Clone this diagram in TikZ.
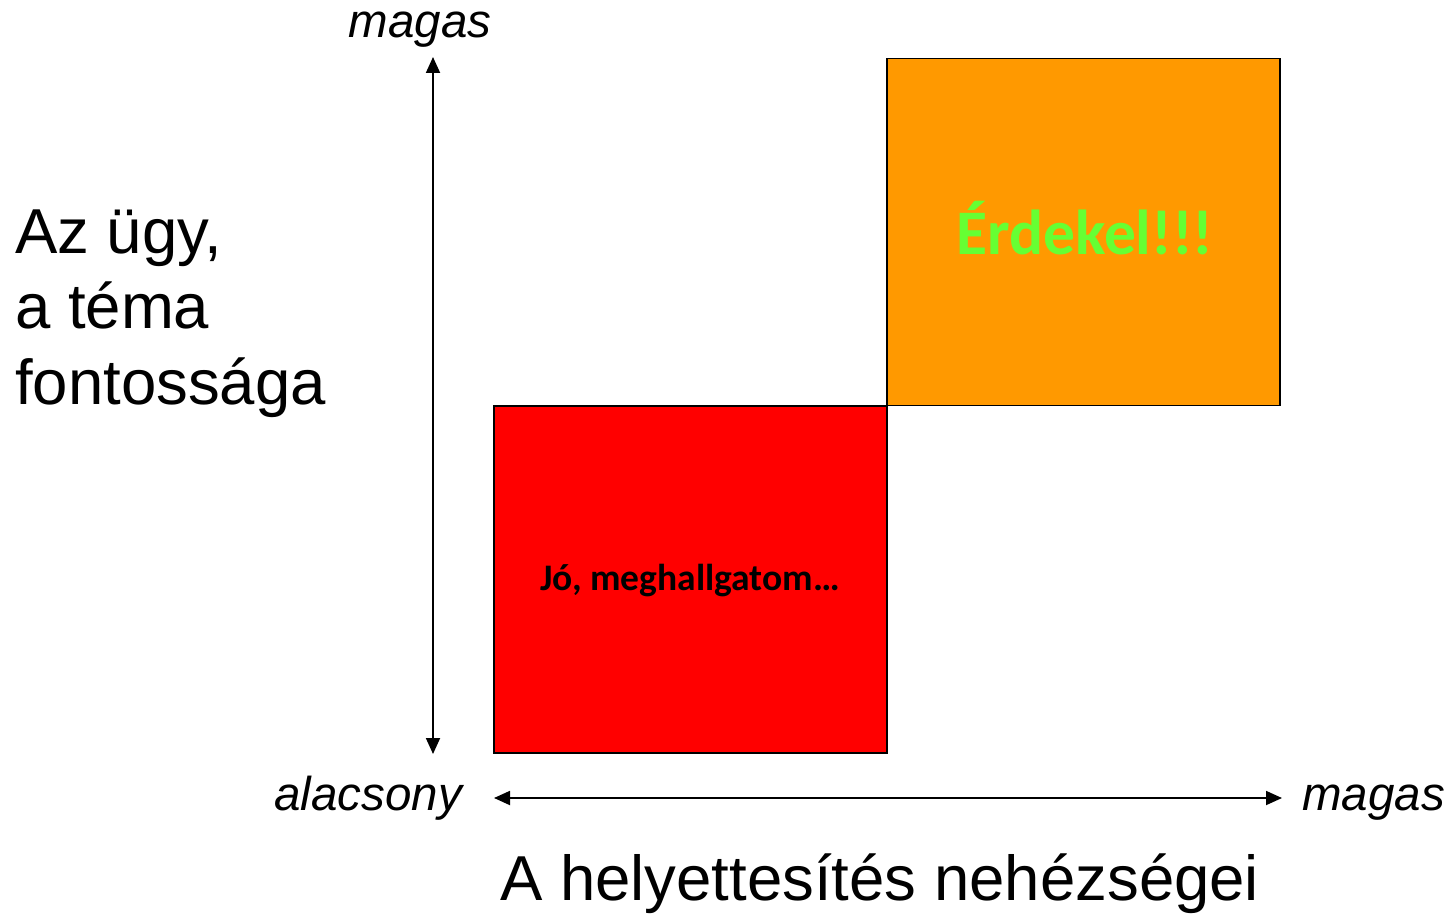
\documentclass[tikz,border=0pt]{standalone}
\usepackage{fontspec}
\setmainfont{Liberation Sans}
\newfontfamily\boxfont{Carlito}
\usetikzlibrary{arrows.meta}
\definecolor{boxred}{HTML}{FF0000}
\definecolor{boxorange}{HTML}{FF9900}
\definecolor{txtgreen}{HTML}{66FF33}
\tikzset{
  quad/.style={draw=black, line width=1.5pt, inner sep=0pt, minimum width=393pt, minimum height=347pt},
  axis/.style={line width=1.8pt, {Triangle[width=14pt,length=16pt]}-{Triangle[width=14pt,length=16pt]}},
  axlabel/.style={inner sep=0pt, font=\fontsize{47.5}{56}\selectfont\itshape},
  biglabel/.style={inner sep=0pt, font=\fontsize{63.5}{76}\selectfont},
}
\begin{document}
\begin{tikzpicture}[x=1pt,y=-1pt]
\useasboundingbox (0,0) rectangle (1453,915);
% boxes
\node[quad, fill=boxred] (low) at (690.5,579.5) {};
\node[quad, fill=boxorange] (high) at (1083.5,232) {};
\node[inner sep=0pt, font=\boxfont\bfseries\fontsize{37.5}{45}\selectfont] (lowtxt) at (690,581) {Jó, meghallgatom…};
\node[inner sep=0pt, text=txtgreen, font=\boxfont\bfseries\fontsize{63.5}{76}\selectfont] (hightxt) at (1085,228) {Érdekel!!!};
% axes
\coordinate (vtop) at (433,57);
\coordinate (vbot) at (433,754);
\coordinate (hleft) at (494,798);
\coordinate (hright) at (1282,798);
\draw[axis] (vbot) -- (vtop);
\draw[axis] (hleft) -- (hright);
% labels
\node[axlabel, anchor=base] (ytop) at (420,38) {magas};
\node[axlabel, anchor=base east] (xlow) at (462,810) {alacsony};
\node[axlabel, anchor=base west] (xhigh) at (1302,810) {magas};
\node[biglabel, anchor=base west] (yl1) at (15,253) {Az ügy,};
\node[biglabel, anchor=base west] (yl2) at (15,328) {a téma};
\node[biglabel, anchor=base west] (yl3) at (15,404) {fontossága};
\node[biglabel, anchor=base west] (xl) at (500,900) {A helyettesítés nehézségei};
\end{tikzpicture}
\end{document}
